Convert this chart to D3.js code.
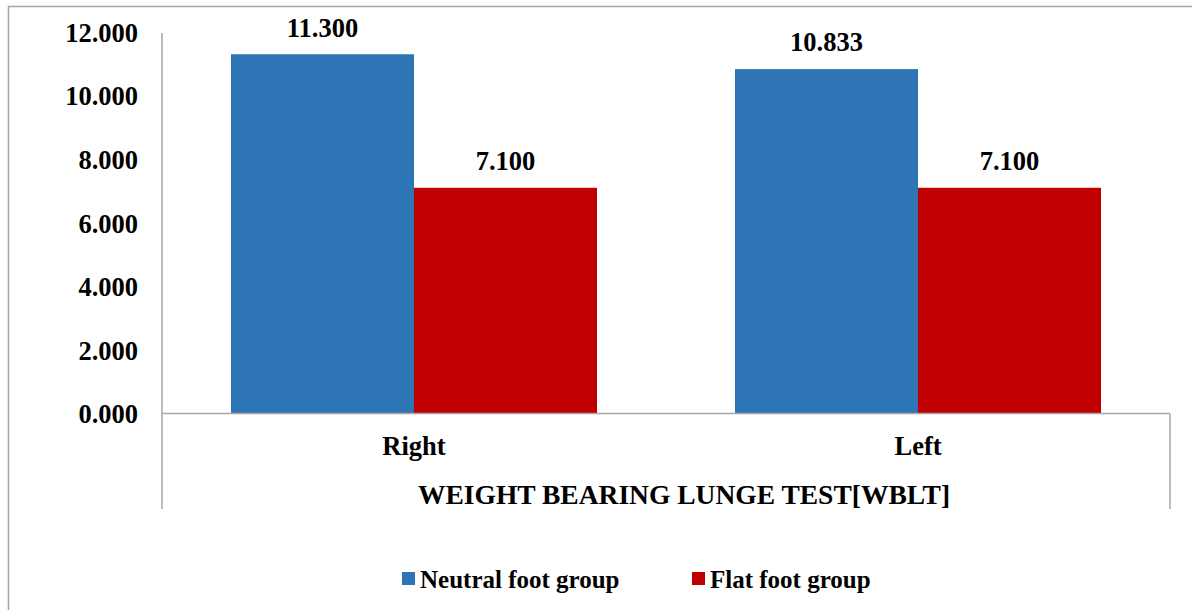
<!DOCTYPE html>
<html>
<head>
<meta charset="utf-8">
<script src="https://cdn.jsdelivr.net/npm/d3@7"></script>
<style>
  body { margin: 0; background: #fff; }
  svg { display: block; }
  svg text { font-family: "Liberation Serif", "Times New Roman", Times, serif; font-weight: bold; fill: #000; }
</style>
</head>
<body>
<div id="chart"></div>
<script>
// chart values
const categories = ["Right", "Left"]
const series = ["Neutral foot group", "Flat foot group"]
const neutralValues = [11.300, 10.833]
const flatValues = [7.100, 7.100]
const yTicks = [0, 2, 4, 6, 8, 10, 12]
const axisTitle = "WEIGHT BEARING LUNGE TEST[WBLT]"
const colours = ["#2E75B6", "#C00000"]

const width = 1192, height = 610
const plot = {left: 162, right: 1170, top: 32, bottom: 413.5, groupBottom: 509}

const svg = d3.select("#chart")
  .append("svg")
    .attr("width", width)
    .attr("height", height)

// outer frame (runs off the picture on the right and bottom)
svg.append("rect")
  .attr("x", 8.5).attr("y", 6.5)
  .attr("width", 1200).attr("height", 620)
  .attr("fill", "none")
  .attr("stroke", "#a6a6a6")
  .attr("stroke-width", 1.5)

const scaleY = d3.scaleLinear()
  .domain([0, 12])
  .range([plot.bottom, plot.top])

const scaleX = d3.scaleBand()
  .domain(categories)
  .range([plot.left, plot.right])
  .padding(0)

const scaleSeries = d3.scaleBand()
  .domain(series)
  .range([0, scaleX.bandwidth()])
  .paddingInner(0)
  .paddingOuter(0.377)

const data = categories.map((c, i) => ({
  category: c,
  values: [neutralValues[i], flatValues[i]]
}))

// y axis labels
const yAxis = svg.append("g")
  .attr("transform", `translate(${plot.left}, 0)`)
  .call(d3.axisLeft(scaleY).tickValues(yTicks).tickSize(0).tickPadding(24).tickFormat(d3.format(".3f")))
yAxis.attr("font-family", null).attr("font-size", null)
yAxis.select(".domain").remove()
yAxis.selectAll("text")
  .style("font-size", "26.5px")
  .attr("dy", "0.35em")

// bars
const groups = svg.selectAll("g.cat")
  .data(data)
  .join("g")
    .attr("class", "cat")
    .attr("transform", d => `translate(${scaleX(d.category)}, 0)`)

groups.selectAll("rect")
  .data(d => d.values.map((v, j) => ({series: series[j], value: v, idx: j})))
  .join("rect")
    .attr("x", d => scaleSeries(d.series))
    .attr("y", d => scaleY(d.value))
    .attr("width", scaleSeries.bandwidth())
    .attr("height", d => scaleY(0) - scaleY(d.value))
    .attr("fill", d => colours[d.idx])

groups.selectAll("text.val")
  .data(d => d.values.map((v, j) => ({series: series[j], value: v})))
  .join("text")
    .attr("class", "val")
    .attr("x", d => scaleSeries(d.series) + scaleSeries.bandwidth() / 2)
    .attr("y", d => scaleY(d.value) - 27)
    .attr("dy", "0.35em")
    .attr("text-anchor", "middle")
    .style("font-size", "26.5px")
    .text(d => d3.format(".3f")(d.value))

// axis lines
const lineColour = "#a6a6a6"
svg.append("line")
  .attr("x1", plot.left).attr("x2", plot.left)
  .attr("y1", plot.top + 1).attr("y2", plot.groupBottom)
  .attr("stroke", lineColour).attr("stroke-width", 1.5)
svg.append("line")
  .attr("x1", plot.left).attr("x2", plot.right)
  .attr("y1", scaleY(0)).attr("y2", scaleY(0))
  .attr("stroke", lineColour).attr("stroke-width", 1.5)
svg.append("line")
  .attr("x1", plot.right).attr("x2", plot.right)
  .attr("y1", scaleY(0)).attr("y2", plot.groupBottom)
  .attr("stroke", lineColour).attr("stroke-width", 1.5)

// category labels
svg.selectAll("text.cat")
  .data(categories)
  .join("text")
    .attr("class", "cat")
    .attr("x", d => scaleX(d) + scaleX.bandwidth() / 2)
    .attr("y", 446)
    .attr("dy", "0.35em")
    .attr("text-anchor", "middle")
    .style("font-size", "26.5px")
    .text(d => d)

svg.append("text")
  .attr("x", (plot.left + plot.right) / 2 + 18)
  .attr("y", 494)
  .attr("dy", "0.35em")
  .attr("text-anchor", "middle")
  .style("font-size", "27.5px")
  .text(axisTitle)

// legend
const legendX = [402, 692]
const legend = svg.selectAll("g.legend")
  .data(series)
  .join("g")
    .attr("class", "legend")
    .attr("transform", (d, i) => `translate(${legendX[i]}, 572)`)
legend.append("rect")
  .attr("width", 13).attr("height", 13)
  .attr("fill", (d, i) => colours[i])
legend.append("text")
  .attr("x", 18)
  .attr("y", 7)
  .attr("dy", "0.35em")
  .style("font-size", "25px")
  .text(d => d)
</script>
</body>
</html>
